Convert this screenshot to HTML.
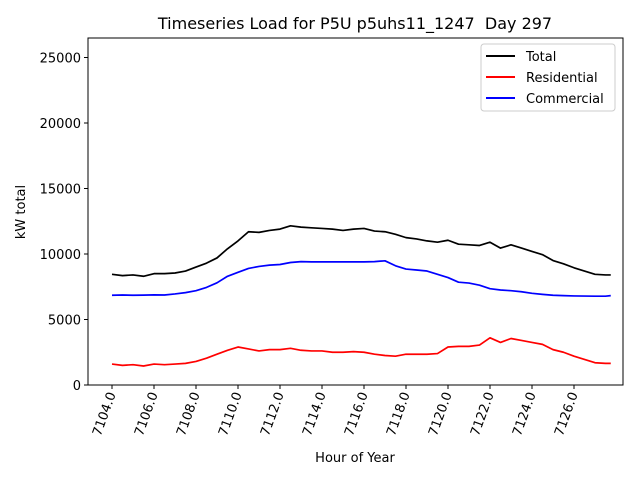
<!DOCTYPE html>
<html><head><meta charset="utf-8"><style>
body{margin:0;background:#fff;}
svg text{font-family:"DejaVu Sans","Liberation Sans",sans-serif;fill:#000;}
</style></head><body>
<svg id="chart" width="640" height="480" xmlns="http://www.w3.org/2000/svg">
<rect width="640" height="480" fill="#fff"/>
<text x="355" y="29" font-size="16" text-anchor="middle">Timeseries Load for P5U p5uhs11_1247&#160; Day 297</text>
<g id="plot"></g>
<rect x="88" y="38" width="535" height="347" fill="none" stroke="#000" stroke-width="1"/>
<text x="355" y="462" font-size="13" text-anchor="middle">Hour of Year</text>
<text x="25" y="212" font-size="13" text-anchor="middle" transform="rotate(-90 25 212)">kW total</text>
<g>
<rect x="481" y="44" width="134" height="67" rx="3" fill="#fff" stroke="#ccc" stroke-width="1"/>
<line x1="486" y1="56" x2="515" y2="56" stroke="#000" stroke-width="2"/>
<text x="526" y="61" font-size="13">Total</text>
<line x1="486" y1="77" x2="515" y2="77" stroke="#f00" stroke-width="2"/>
<text x="526" y="82" font-size="13">Residential</text>
<line x1="486" y1="98" x2="515" y2="98" stroke="#00f" stroke-width="2"/>
<text x="526" y="103" font-size="13">Commercial</text>
</g>
</svg>
<script>
const hours=[];for(let i=0;i<48;i++)hours.push(7104+i*0.5);hours.push(7127.75);
const totalValues=[8450,8350,8400,8300,8500,8500,8550,8700,9000,9300,9700,10400,11000,11700,11650,11800,11900,12150,12050,12000,11950,11900,11800,11900,11950,11750,11700,11500,11250,11150,11000,10900,11050,10750,10700,10650,10900,10450,10700,10450,10200,9950,9500,9250,8950,8700,8450,8400,8400];
const residentialValues=[1600,1500,1550,1450,1600,1550,1600,1650,1800,2050,2350,2650,2900,2750,2600,2700,2700,2800,2650,2600,2600,2500,2500,2550,2500,2350,2250,2200,2350,2350,2350,2400,2900,2950,2950,3050,3600,3250,3550,3400,3250,3100,2700,2500,2200,1950,1700,1650,1650];
const commercialValues=[6850,6870,6850,6860,6880,6870,6950,7050,7200,7450,7800,8300,8600,8900,9050,9150,9200,9350,9420,9400,9400,9400,9400,9400,9400,9420,9480,9100,8850,8780,8700,8450,8200,7850,7780,7620,7350,7250,7200,7120,7000,6920,6850,6820,6800,6790,6780,6780,6820];
const xTicks=[7104,7106,7108,7110,7112,7114,7116,7118,7120,7122,7124,7126];
const yTicks=[0,5000,10000,15000,20000,25000];
const NS="http://www.w3.org/2000/svg";
const xs=h=>112+(h-7104)*21.0;
const ys=v=>385-v*0.0131;
const g=document.getElementById('plot');
function mk(t,a){const e=document.createElementNS(NS,t);for(const k in a)e.setAttribute(k,a[k]);g.appendChild(e);return e;}
yTicks.forEach(v=>{
 const l=mk('line',{x1:84,x2:88,y1:ys(v),y2:ys(v),stroke:'#000'});
 
 
 const t=mk('text',{x:81,y:ys(v)+5,'font-size':13,'text-anchor':'end'});t.textContent=v;
 
 
});
xTicks.forEach(h=>{
 const x=xs(h);
 const l=mk('line',{x1:x,x2:x,y1:385,y2:389,stroke:'#000'});
 
 
 const t=mk('text',{x:x+4,y:394,'font-size':13,'text-anchor':'end',transform:`rotate(-70 ${x+4} 394)`});t.textContent=h.toFixed(1);
 
 
});
function series(vals,color,name){
 const p=mk('polyline',{points:vals.map((v,i)=>xs(hours[i])+','+ys(v)).join(' '),fill:'none',stroke:color,'stroke-width':1.7,'stroke-linejoin':'round'});
 
 
}
series(totalValues,'#000','total-line');
series(residentialValues,'#f00','residential-line');
series(commercialValues,'#00f','commercial-line');
</script>
</body></html>
